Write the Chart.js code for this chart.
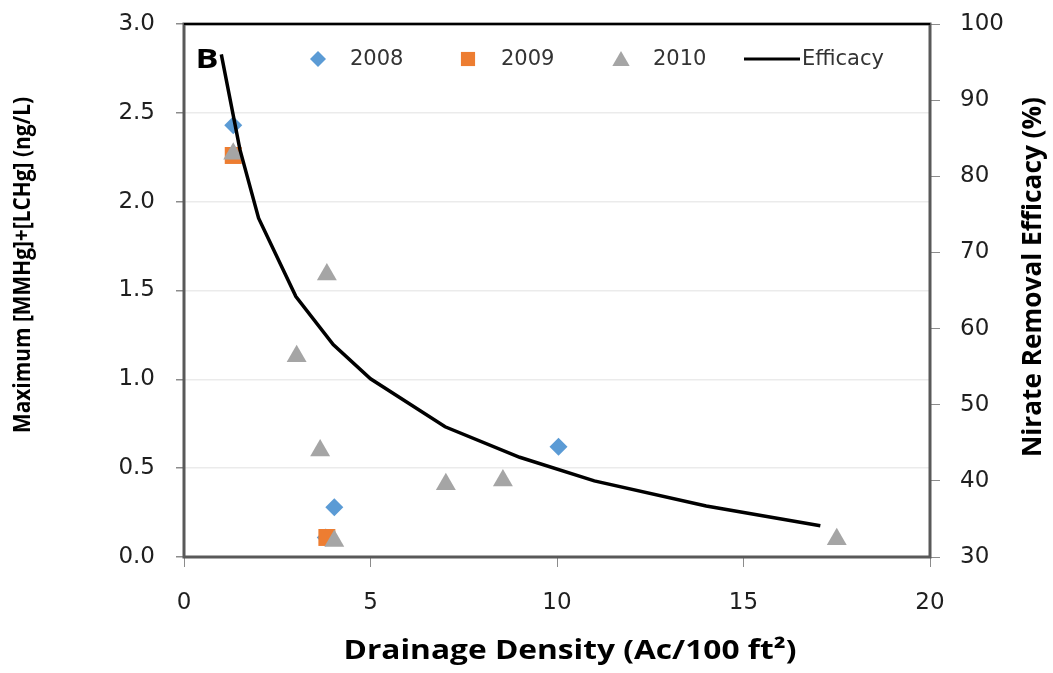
<!DOCTYPE html>
<html>
<head>
<meta charset="utf-8">
<script src="https://cdn.jsdelivr.net/npm/chart.js@4.4.0/dist/chart.umd.min.js"></script>
<style>
  body { margin: 0; background: #fff; }
  canvas { display: block; }
</style>
</head>
<body>
<canvas id="chart" width="1053" height="673"></canvas>
<script>
// Datos
const x2008 = [1.32, 3.80, 4.03, 10.04];
const y2008 = [2.43, 0.11, 0.28, 0.62];
const x2009 = [1.32, 3.83];
const y2009 = [2.26, 0.11];
const x2010 = [1.32, 3.83, 3.02, 3.65, 7.02, 8.55, 4.03, 17.5];
const y2010 = [2.27, 1.59, 1.13, 0.60, 0.41, 0.43, 0.09, 0.10];
const xEfficacy = [1, 1.5, 2, 3, 4, 5, 7, 9, 11, 14, 17.06];
const yEfficacy = [96.0, 83.5, 74.5, 64.2, 57.9, 53.4, 47.1, 43.1, 40.0, 36.7, 34.1];

const xTicks = [0, 5, 10, 15, 20];
const leftTicks = [0, 0.5, 1.0, 1.5, 2.0, 2.5, 3.0];
const rightTicks = [30, 40, 50, 60, 70, 80, 90, 100];

const seriesNames = ['2008', '2009', '2010', 'Efficacy'];
const colors = ['#5B9BD5', '#ED7D31', '#A5A5A5', '#000000'];

const toPoints = (xs, ys) => xs.map((x, i) => ({ x: x, y: ys[i] }));

const tickFont = { family: 'DejaVu Sans', size: 23 };
const tickColor = '#1f1f1f';

// Texto ajustado a un ancho dado
function fitText(ctx, text, cx, cy, width, font, rot) {
  ctx.save();
  ctx.font = font;
  ctx.translate(cx, cy);
  if (rot) ctx.rotate(rot);
  const w = ctx.measureText(text).width;
  ctx.scale(width / w, 1);
  ctx.textAlign = 'center';
  ctx.textBaseline = 'middle';
  ctx.fillText(text, 0, 0);
  ctx.restore();
}

// Quitar el relleno automatico de las etiquetas para fijar el area del grafico
function fixAxis(axis, size) {
  if (axis.isHorizontal()) axis.height = size; else axis.width = size;
  axis.paddingTop = 0;
  axis.paddingBottom = 0;
  axis.paddingLeft = 0;
  axis.paddingRight = 0;
}

const decorPlugin = {
  id: 'decor',
  beforeDatasetsDraw(chart) {
    const { ctx, chartArea: a } = chart;
    ctx.save();
    ctx.strokeStyle = '#595959';
    ctx.lineWidth = 3;
    ctx.strokeRect(a.left, a.top, a.right - a.left, a.bottom - a.top);
    ctx.strokeStyle = '#000';
    ctx.lineWidth = 2;
    ctx.beginPath();
    ctx.moveTo(a.left, a.top);
    ctx.lineTo(a.right, a.top);
    ctx.stroke();
    ctx.restore();
  },
  afterDraw(chart) {
    const ctx = chart.ctx;
    ctx.save();
    ctx.fillStyle = '#000';

    // Titulos de los ejes
    fitText(ctx, 'Maximum [MMHg]+[LCHg] (ng/L)', 23, 265, 336, 'bold 23px "Open Sans"', -Math.PI / 2);
    fitText(ctx, 'Nirate Removal Efficacy (%)', 1033, 277, 360, 'bold 27px "Open Sans"', -Math.PI / 2);
    fitText(ctx, 'Drainage Density (Ac/100 ft\u00B2)', 570, 652, 453, 'bold 26px "Open Sans"', 0);
    fitText(ctx, 'B', 207, 60, 23, 'bold 27px "Open Sans"', 0);

    // Leyenda
    const ly = 59;
    const markers = [
      { style: 'rectRot', r: 8, x: 318 },
      { style: 'rect', r: 10, x: 468 },
      { style: 'triangle', r: 10, x: 621 }
    ];
    markers.forEach((m, i) => {
      ctx.fillStyle = colors[i];
      Chart.helpers.drawPoint(ctx, { pointStyle: m.style, radius: m.r, rotation: 0, borderWidth: 0 }, m.x, m.style === 'triangle' ? ly + 2 : ly);
    });
    ctx.strokeStyle = '#000';
    ctx.lineWidth = 3;
    ctx.beginPath();
    ctx.moveTo(744, ly);
    ctx.lineTo(800, ly);
    ctx.stroke();

    ctx.fillStyle = '#333';
    ctx.font = '21px "DejaVu Sans"';
    ctx.textBaseline = 'middle';
    ctx.textAlign = 'left';
    const textX = [350, 501, 653, 802];
    seriesNames.forEach((name, i) => {
      ctx.fillText(name, textX[i], ly + 1);
    });
    ctx.restore();
  }
};

new Chart(document.getElementById('chart'), {
  type: 'scatter',
  data: {
    datasets: [
      {
        label: seriesNames[3],
        type: 'line',
        data: toPoints(xEfficacy, yEfficacy),
        yAxisID: 'y2',
        borderColor: colors[3],
        borderWidth: 3.5,
        pointRadius: 0,
        tension: 0,
        fill: false,
        order: 0
      },
      {
        label: seriesNames[2],
        data: toPoints(x2010, y2010),
        pointStyle: 'triangle',
        pointRadius: 11.5,
        backgroundColor: colors[2],
        borderWidth: 0,
        order: 1
      },
      {
        label: seriesNames[1],
        data: toPoints(x2009, y2009),
        pointStyle: 'rect',
        pointRadius: 12,
        backgroundColor: colors[1],
        borderWidth: 0,
        order: 2
      },
      {
        label: seriesNames[0],
        data: toPoints(x2008, y2008),
        pointStyle: 'rectRot',
        pointRadius: 9,
        backgroundColor: colors[0],
        borderWidth: 0,
        order: 3
      }
    ]
  },
  options: {
    responsive: false,
    animation: false,
    devicePixelRatio: 1,
    layout: { padding: { top: 24, left: 0, right: 0, bottom: 0 } },
    plugins: {
      legend: { display: false },
      tooltip: { enabled: false }
    },
    scales: {
      x: {
        type: 'linear',
        min: 0,
        max: 20,
        afterBuildTicks: axis => { axis.ticks = xTicks.map(v => ({ value: v })); },
        afterFit: axis => fixAxis(axis, 116),
        border: { display: false },
        grid: { drawOnChartArea: false, drawTicks: true, tickLength: 10, tickColor: '#8c8c8c' },
        ticks: { font: tickFont, color: tickColor, padding: 22, maxRotation: 0 }
      },
      y: {
        type: 'linear',
        position: 'left',
        min: 0,
        max: 3,
        afterBuildTicks: axis => { axis.ticks = leftTicks.map(v => ({ value: v })); },
        afterFit: axis => fixAxis(axis, 184),
        border: { display: false },
        grid: { color: '#ebebeb', lineWidth: 1.5, drawTicks: true, tickLength: 8, tickColor: '#8c8c8c' },
        ticks: { font: tickFont, color: tickColor, padding: 21, callback: v => v.toFixed(1) }
      },
      y2: {
        type: 'linear',
        position: 'right',
        min: 30,
        max: 100,
        afterBuildTicks: axis => { axis.ticks = rightTicks.map(v => ({ value: v })); },
        afterFit: axis => fixAxis(axis, 123),
        border: { display: false },
        grid: { drawOnChartArea: false, drawTicks: true, tickLength: 10, tickColor: '#8c8c8c' },
        ticks: { font: tickFont, color: tickColor, padding: 20 }
      }
    }
  },
  plugins: [decorPlugin]
});
</script>
</body>
</html>
